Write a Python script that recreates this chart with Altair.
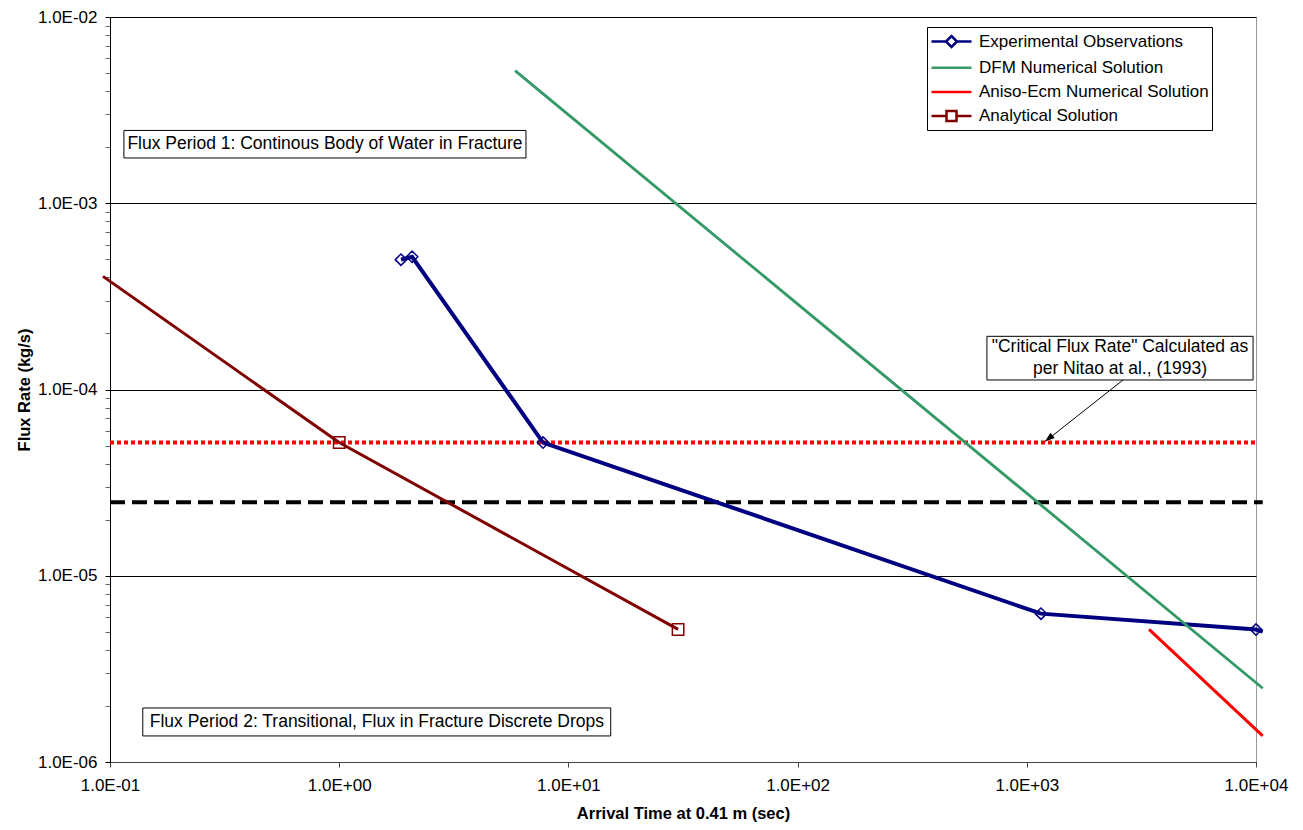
import altair as alt
import pandas as pd

FONT = "Liberation Sans"

series = ["Experimental Observations", "DFM Numerical Solution",
          "Aniso-Ecm Numerical Solution", "Analytical Solution"]
colors = ["#000080", "#339966", "#FF0000", "#800000"]
widths = [4.0, 2.8, 3.0, 3.0]
legend_paths = [
    "M-1,0H0.45M1.55,0H3M0.45,0L1,-0.55L1.55,0L1,0.55Z",
    "M-1,0H3",
    "M-1,0H3",
    "M-1,0H0.5M1.5,0H3M0.5,-0.5H1.5V0.5H0.5Z",
]

# Experimental observations
exp_x = [1.86, 2.08, 7.75, 1153, 10000, 10700]
exp_y = [4.98e-4, 5.16e-4, 5.19e-5, 6.26e-6, 5.14e-6, 5.02e-6]
exp_marker = [True, True, True, True, True, False]
# DFM numerical solution
dfm_x = [5.85, 10700]
dfm_y = [5.15e-3, 2.49e-6]
# Aniso-Ecm numerical solution
ecm_x = [3415, 10700]
ecm_y = [5.15e-6, 1.38e-6]
# Analytical solution
ana_x = [0.0932, 1.0, 30.1]
ana_y = [4.05e-4, 5.19e-5, 5.15e-6]
ana_marker = [False, True, True]

# Horizontal reference levels
crit_x = [0.1, 10000]
crit_y = [5.2e-5, 5.2e-5]
dash_x = [0.1, 10700]
dash_y = [2.48e-5, 2.48e-5]

# Axis ticks
x_ticks = [0.1, 1, 10, 100, 1000, 10000]
x_labels = ["1.0E-01", "1.0E+00", "1.0E+01", "1.0E+02", "1.0E+03", "1.0E+04"]
y_major = [1e-6, 1e-5, 1e-4, 1e-3, 1e-2]
y_labels = ["1.0E-06", "1.0E-05", "1.0E-04", "1.0E-03", "1.0E-02"]
y_minor = [m * d for d in [1e-6, 1e-5, 1e-4, 1e-3] for m in range(2, 10)]

# Annotations (text, text x, text y (first line), box x1, x2, y1, y2)
notes = [
    ("Flux Period 1: Continous Body of Water in Fracture", 0.867, 2.07e-3, 0.115, 6.53, 2.46e-3, 1.75e-3),
    ("Flux Period 2: Transitional, Flux in Fracture Discrete Drops", 1.46, 1.64e-6, 0.139, 15.3, 1.95e-6, 1.38e-6),
    ("\"Critical Flux Rate\" Calculated as\nper Nitao at al., (1993)", 2550, 1.69e-4, 670, 9710, 1.93e-4, 1.125e-4),
]
arrow_from = (2630, 1.125e-4)
arrow_to = (1200, 5.25e-5)


def label_expr(vals, labs):
    expr = "''"
    for v, l in reversed(list(zip(vals, labs))):
        expr = f"abs(datum.value/{v!r} - 1) < 1e-6 ? '{l}' : ({expr})"
    return expr


series_xy = [(exp_x, exp_y), (dfm_x, dfm_y), (ecm_x, ecm_y), (ana_x, ana_y)]
rows = []
for s, (xs, ys) in zip(series, series_xy):
    for i, (a, b) in enumerate(zip(xs, ys)):
        rows.append({"series": s, "x": a, "y": b, "o": i})
lines_df = pd.DataFrame(rows)

exp_pts = pd.DataFrame({"x": [a for a, m in zip(exp_x, exp_marker) if m],
                        "y": [b for b, m in zip(exp_y, exp_marker) if m]})
ana_pts = pd.DataFrame({"x": [a for a, m in zip(ana_x, ana_marker) if m],
                        "y": [b for b, m in zip(ana_y, ana_marker) if m]})
crit_df = pd.DataFrame({"x": crit_x, "y": crit_y})
dash_df = pd.DataFrame({"x": dash_x, "y": dash_y})
notes_df = pd.DataFrame([{"t": n[0], "x": n[1], "y": n[2], "bx1": n[3], "bx2": n[4],
                          "by1": n[5], "by2": n[6]} for n in notes])
notes_df["t"] = notes_df["t"].str.split("\n")
arrow_df = pd.DataFrame({"x": [arrow_from[0]], "y": [arrow_from[1]],
                         "x2": [arrow_to[0]], "y2": [arrow_to[1]]})
head_df = pd.DataFrame({"x": [arrow_to[0]], "y": [arrow_to[1]]})

decade_test = "abs(log(datum.value)/LN10 - round(log(datum.value)/LN10)) < 1e-6"

xscale = alt.Scale(type="log", domain=[0.1, 10000], nice=False)
yscale = alt.Scale(type="log", domain=[1e-6, 1e-2], nice=False)

x_enc = alt.X("x:Q", scale=xscale, title="Arrival Time at 0.41 m (sec)",
              axis=alt.Axis(values=x_ticks, labelExpr=label_expr(x_ticks, x_labels),
                            grid=False, tickSize=5, tickColor="#444444",
                            domainColor="#444444", labelFont=FONT, labelFontSize=17,
                            labelColor="black", labelPadding=10, labelFlush=False,
                            labelOverlap=False, titleFont=FONT, titleFontSize=16.5,
                            titleFontWeight="bold", titleColor="black", titlePadding=12))
y_enc = alt.Y("y:Q", scale=yscale, title="Flux Rate (kg/s)",
              axis=alt.Axis(values=y_major + y_minor, labelExpr=label_expr(y_major, y_labels),
                            grid=True, gridColor="black", gridWidth=1,
                            gridOpacity={"condition": {"test": decade_test, "value": 1}, "value": 0},
                            tickColor={"condition": {"test": decade_test, "value": "#000000"}, "value": "#666666"},
                            tickSize=5, tickWidth=1, domainColor="black", labelFont=FONT,
                            labelFontSize=17, labelColor="black", labelPadding=8,
                            labelOverlap=False, titleFont=FONT, titleFontSize=16.5,
                            titleFontWeight="bold", titleColor="black", titlePadding=5))

boxes = alt.Chart(notes_df).mark_rect(fill="white", stroke="black", strokeWidth=1).encode(
    x="bx1:Q", x2="bx2:Q", y="by1:Q", y2="by2:Q")
texts = alt.Chart(notes_df).mark_text(font=FONT, fontSize=17.5, align="center",
                                       baseline="middle", lineHeight=22, color="black").encode(
    text="t")

crit = alt.Chart(crit_df).mark_line(color="#FF0000", strokeWidth=4, strokeDash=[4, 3])
dash = alt.Chart(dash_df).mark_line(color="black", strokeWidth=4, strokeDash=[15, 7])

series_lines = [
    alt.Chart(lines_df).transform_filter(alt.datum.series == s)
    .mark_line(color=c, strokeWidth=w).encode(order="o:Q")
    for s, c, w in zip(series, colors, widths)
]

exp_marks = alt.Chart(exp_pts).mark_point(shape="diamond", size=130, color="#000080",
                                          strokeWidth=1.5, filled=False, opacity=1)
ana_marks = alt.Chart(ana_pts).mark_point(shape="square", size=130, color="#800000",
                                          strokeWidth=1.5, filled=False, opacity=1)

arrow = alt.Chart(arrow_df).mark_rule(color="black", strokeWidth=1).encode(x2="x2:Q", y2="y2:Q")
head = alt.Chart(head_df).mark_point(shape="M0,0L-0.55,1.6L0.55,1.6Z", size=150, angle=231,
                                     filled=True, color="black", opacity=1)

legend_layer = alt.Chart(lines_df).mark_point(opacity=0, size=400, strokeWidth=2.5).encode(
    color=alt.Color("series:N", scale=alt.Scale(domain=series, range=colors),
                    legend=alt.Legend(orient="none", legendX=817, legendY=10, title=None,
                                      strokeColor="black", fillColor="white", padding=3,
                                      labelFont=FONT, labelFontSize=17, labelColor="black",
                                      labelLimit=500, symbolOpacity=1, symbolStrokeWidth=2.5,
                                      symbolSize=400, symbolFillColor="white",
                                      rowPadding=4.2, labelOffset=26)),
    shape=alt.Shape("series:N", scale=alt.Scale(domain=series, range=legend_paths)))

chart = alt.layer(
    boxes, texts, dash, crit, *series_lines, exp_marks, ana_marks, arrow, head, legend_layer
).encode(
    x=x_enc, y=y_enc
).properties(
    width=1146, height=745, autosize="none",
    padding={"left": 102, "top": 9, "right": 39, "bottom": 66}
).configure_view(stroke="#999999", strokeWidth=1)

chart.save("out.html", embed_options={"renderer": "svg", "actions": False})
